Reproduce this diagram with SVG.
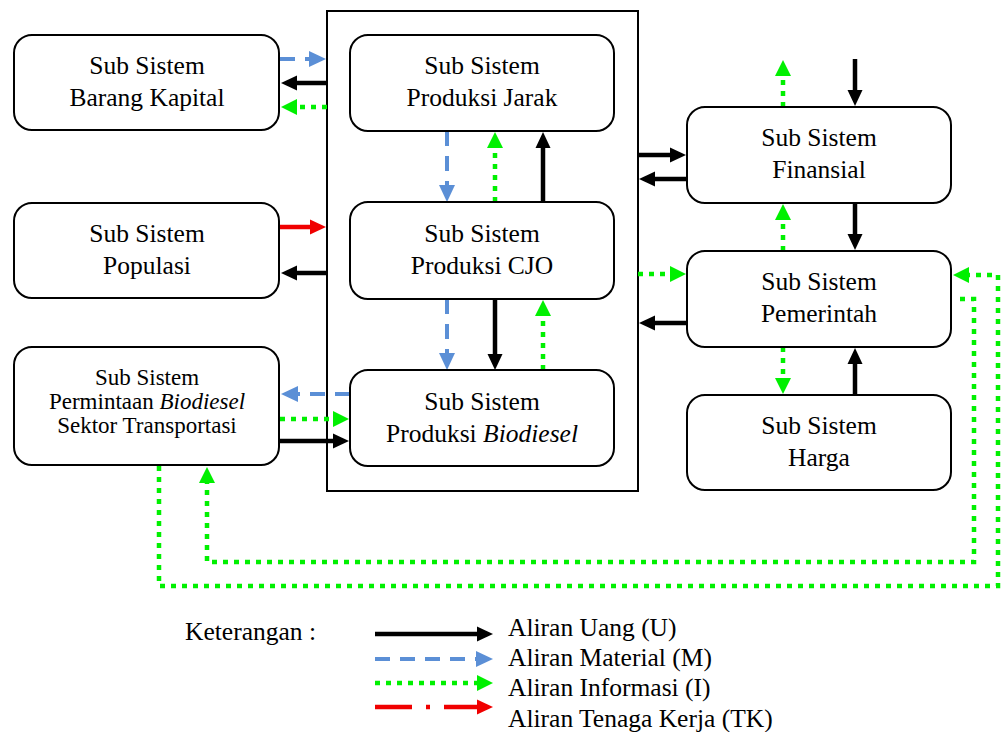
<svg xmlns="http://www.w3.org/2000/svg" width="1003" height="732" viewBox="0 0 1003 732" font-family="'Liberation Serif', 'Times New Roman', serif">
<style>
text{font-family:"Liberation Serif","Times New Roman",serif;fill:#000}
.box{fill:#fff;stroke:#000;stroke-width:2}
.lbl{font-size:25.5px;text-anchor:middle}
.lbls{font-size:23px;text-anchor:middle}
.leg{font-size:25.5px}
.u{fill:none;stroke:#000;stroke-width:4.5}
.m{fill:none;stroke:#5B8FD6;stroke-width:4;stroke-dasharray:15 10}
.i{fill:none;stroke:#00F000;stroke-width:4.5;stroke-dasharray:5 6}
.tk{fill:none;stroke:#F00000;stroke-width:4.5}
.tkd{fill:none;stroke:#F00000;stroke-width:4.5;stroke-dasharray:37 14 4 14}
</style>
<defs>
<marker id="aU" markerUnits="userSpaceOnUse" markerWidth="20" markerHeight="20" viewBox="0 -10 20 20" refX="1" refY="0" orient="auto"><path d="M0,-7.5 L16,0 L0,7.5 z" fill="#000"/></marker>
<marker id="aM" markerUnits="userSpaceOnUse" markerWidth="20" markerHeight="20" viewBox="0 -10 20 20" refX="1" refY="0" orient="auto"><path d="M0,-8 L17,0 L0,8 z" fill="#5B8FD6"/></marker>
<marker id="aI" markerUnits="userSpaceOnUse" markerWidth="20" markerHeight="20" viewBox="0 -10 20 20" refX="1" refY="0" orient="auto"><path d="M0,-8 L16,0 L0,8 z" fill="#00F000"/></marker>
<marker id="aT" markerUnits="userSpaceOnUse" markerWidth="20" markerHeight="20" viewBox="0 -10 20 20" refX="1" refY="0" orient="auto"><path d="M0,-7.5 L16,0 L0,7.5 z" fill="#F00000"/></marker>
</defs>

<rect x="327" y="11" width="311" height="480" fill="none" stroke="#000" stroke-width="2"/>

<g id="connectors">
<path class="m" d="M280,59 H310" marker-end="url(#aM)"/>
<path class="u" d="M327,83 H296" marker-end="url(#aU)"/>
<path class="i" d="M327,107 H296" marker-end="url(#aI)"/>
<path class="tk" d="M280,227 H311" marker-end="url(#aT)"/>
<path class="u" d="M327,273 H296" marker-end="url(#aU)"/>
<path class="m" d="M350,394 H297" marker-end="url(#aM)"/>
<path class="i" d="M280,419 H334" marker-end="url(#aI)"/>
<path class="u" d="M280,441 H334" marker-end="url(#aU)"/>
<path class="m" d="M447,131 V186" marker-end="url(#aM)"/>
<path class="i" d="M495,202 V147" marker-end="url(#aI)"/>
<path class="u" d="M543,202 V147" marker-end="url(#aU)"/>
<path class="m" d="M447,299 V354" marker-end="url(#aM)"/>
<path class="u" d="M495,299 V355" marker-end="url(#aU)"/>
<path class="i" d="M543,370 V315" marker-end="url(#aI)"/>
<path class="i" d="M783,107 V75" marker-end="url(#aI)"/>
<path class="u" d="M855,59 V91" marker-end="url(#aU)"/>
<path class="u" d="M638,155 H671" marker-end="url(#aU)"/>
<path class="u" d="M687,179 H654" marker-end="url(#aU)"/>
<path class="i" d="M783,251 V219" marker-end="url(#aI)"/>
<path class="u" d="M855,203 V235" marker-end="url(#aU)"/>
<path class="i" d="M638,274 H671" marker-end="url(#aI)"/>
<path class="u" d="M687,323 H654" marker-end="url(#aU)"/>
<path class="i" d="M783,347 V379" marker-end="url(#aI)"/>
<path class="u" d="M855,395 V363" marker-end="url(#aU)"/>
<path class="i" d="M960,299 H974 V562 H207 V482" marker-end="url(#aI)"/>
<path class="i" d="M159,466 V586 H998 V275 H968" marker-end="url(#aI)"/>
</g>

<g id="barang-kapital"><rect class="box" x="14" y="35" width="265" height="95" rx="18"/><text class="lbl" x="147" y="74">Sub Sistem</text><text class="lbl" x="147" y="106">Barang Kapital</text></g>
<g id="populasi"><rect class="box" x="14" y="203" width="265" height="95" rx="18"/><text class="lbl" x="147" y="242">Sub Sistem</text><text class="lbl" x="147" y="274">Populasi</text></g>
<g id="permintaan"><rect class="box" x="14" y="347" width="265" height="118" rx="18"/><text class="lbls" x="147" y="385">Sub Sistem</text><text class="lbls" x="147" y="409">Permintaan <tspan font-style="italic">Biodiesel</tspan></text><text class="lbls" x="147" y="433">Sektor Transportasi</text></g>
<g id="produksi-jarak"><rect class="box" x="350" y="35" width="264" height="96" rx="18"/><text class="lbl" x="482" y="74">Sub Sistem</text><text class="lbl" x="482" y="106">Produksi Jarak</text></g>
<g id="produksi-cjo"><rect class="box" x="350" y="202" width="264" height="97" rx="18"/><text class="lbl" x="482" y="242">Sub Sistem</text><text class="lbl" x="482" y="274">Produksi CJO</text></g>
<g id="produksi-biodiesel"><rect class="box" x="350" y="370" width="264" height="96" rx="18"/><text class="lbl" x="482" y="410">Sub Sistem</text><text class="lbl" x="482" y="442">Produksi <tspan font-style="italic">Biodiesel</tspan></text></g>
<g id="finansial"><rect class="box" x="687" y="107" width="264" height="96" rx="18"/><text class="lbl" x="819" y="146">Sub Sistem</text><text class="lbl" x="819" y="178">Finansial</text></g>
<g id="pemerintah"><rect class="box" x="687" y="251" width="264" height="96" rx="18"/><text class="lbl" x="819" y="290">Sub Sistem</text><text class="lbl" x="819" y="322">Pemerintah</text></g>
<g id="harga"><rect class="box" x="687" y="395" width="264" height="95" rx="18"/><text class="lbl" x="819" y="434">Sub Sistem</text><text class="lbl" x="819" y="466">Harga</text></g>

<g id="legend">
<text class="leg" x="185" y="640">Keterangan :</text>
<path class="u" d="M375,634 H478" marker-end="url(#aU)"/>
<path class="m" d="M375,659 H477" marker-end="url(#aM)"/>
<path class="i" d="M375,683 H478" marker-end="url(#aI)"/>
<path class="tkd" d="M375,707 H478" marker-end="url(#aT)"/>
<text class="leg" x="508" y="636">Aliran Uang (U)</text>
<text class="leg" x="508" y="666">Aliran Material (M)</text>
<text class="leg" x="508" y="696">Aliran Informasi (I)</text>
<text class="leg" x="508" y="727">Aliran Tenaga Kerja (TK)</text>
</g>
</svg>
